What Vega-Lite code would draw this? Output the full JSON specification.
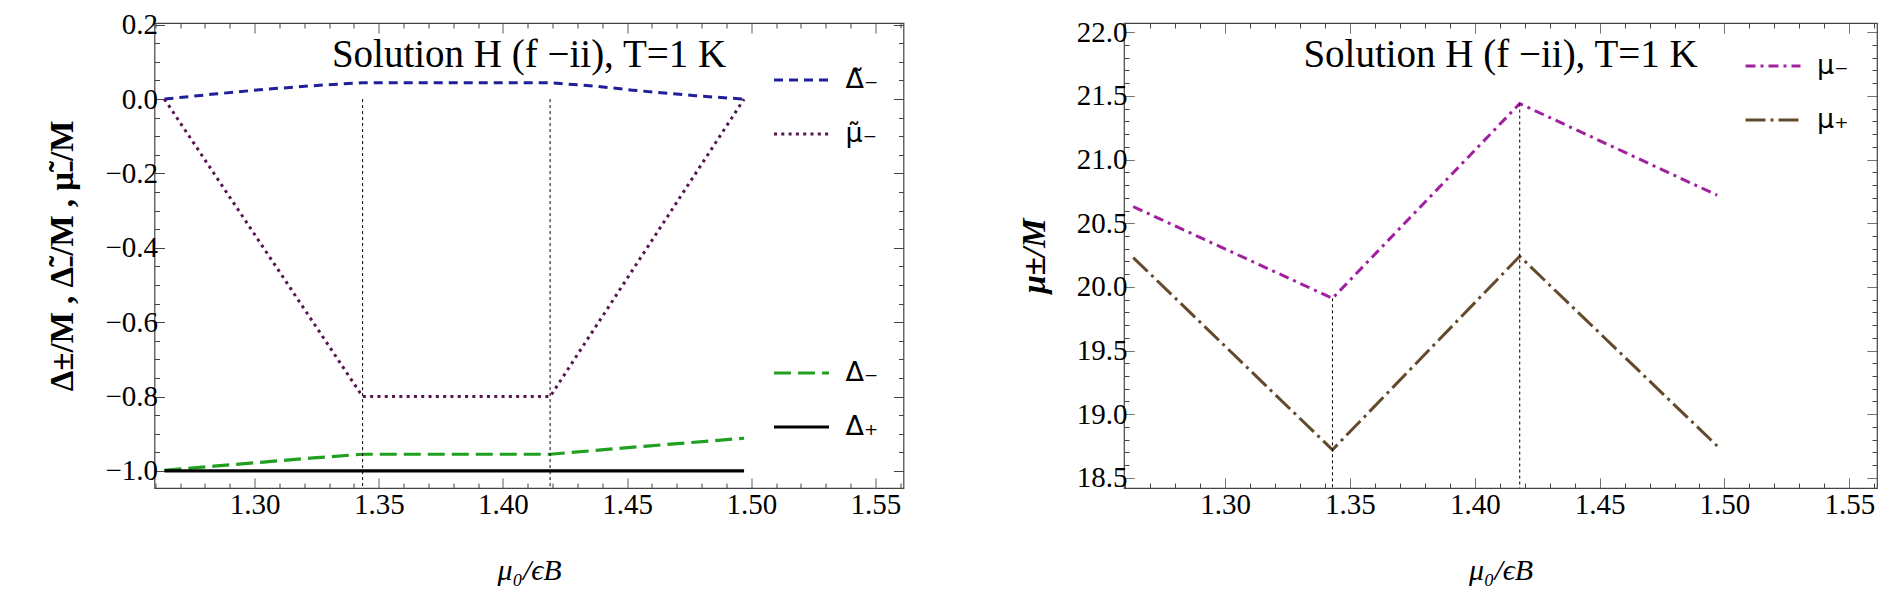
{
  "$schema": "https://vega.github.io/schema/vega-lite/v6.json",
  "padding": {"left": 45.5, "top": 10, "right": 5, "bottom": 5},
  "background": "white",
  "spacing": 111.5,
  "config": {
    "view": {"stroke": "#444", "strokeWidth": 1.2},
    "axis": {"domain": false, "grid": false, "tickColor": "#444", "tickWidth": 1, "labelFont": "Liberation Serif", "labelFontSize": 29, "labelColor": "black", "titleColor": "black"},
    "legend": {"title": null}
  },
  "datasets": {
    "leftA": [
      {"s": "Δ̃₋", "x": 1.2637, "y": 0},
      {"s": "Δ̃₋", "x": 1.2837, "y": 0.0135},
      {"s": "Δ̃₋", "x": 1.3036, "y": 0.026},
      {"s": "Δ̃₋", "x": 1.3236, "y": 0.036},
      {"s": "Δ̃₋", "x": 1.3435, "y": 0.044},
      {"s": "Δ̃₋", "x": 1.419, "y": 0.044},
      {"s": "Δ̃₋", "x": 1.4385, "y": 0.034},
      {"s": "Δ̃₋", "x": 1.4522, "y": 0.024},
      {"s": "Δ̃₋", "x": 1.4775, "y": 0.009},
      {"s": "Δ̃₋", "x": 1.4971, "y": 0},
      {"s": "μ̃₋", "x": 1.2637, "y": 0},
      {"s": "μ̃₋", "x": 1.3435, "y": -0.8},
      {"s": "μ̃₋", "x": 1.419, "y": -0.8},
      {"s": "μ̃₋", "x": 1.4971, "y": 0}
    ],
    "leftB": [
      {"s": "Δ₋", "x": 1.2637, "y": -0.998},
      {"s": "Δ₋", "x": 1.2837, "y": -0.987},
      {"s": "Δ₋", "x": 1.3036, "y": -0.976},
      {"s": "Δ₋", "x": 1.3236, "y": -0.965},
      {"s": "Δ₋", "x": 1.3435, "y": -0.955},
      {"s": "Δ₋", "x": 1.419, "y": -0.955},
      {"s": "Δ₋", "x": 1.458, "y": -0.933},
      {"s": "Δ₋", "x": 1.4971, "y": -0.912},
      {"s": "Δ₊", "x": 1.2637, "y": -1.0},
      {"s": "Δ₊", "x": 1.4971, "y": -1.0}
    ],
    "vlinesLeft": [
      {"x": 1.3435, "top": 0},
      {"x": 1.419, "top": 0}
    ],
    "titleLeft": [{"label": "Solution H (f −ii), T=1 K", "x": 1.4105, "y": 0.086}],
    "right": [
      {"s": "μ₋", "x": 1.2632, "y": 20.63},
      {"s": "μ₋", "x": 1.343, "y": 19.91},
      {"s": "μ₋", "x": 1.418, "y": 21.44},
      {"s": "μ₋", "x": 1.4971, "y": 20.72},
      {"s": "μ₊", "x": 1.2632, "y": 20.23},
      {"s": "μ₊", "x": 1.343, "y": 18.72},
      {"s": "μ₊", "x": 1.418, "y": 20.24},
      {"s": "μ₊", "x": 1.4971, "y": 18.75}
    ],
    "vlinesRight": [
      {"x": 1.343, "top": 19.91},
      {"x": 1.418, "top": 21.44}
    ],
    "titleRight": [{"label": "Solution H (f −ii), T=1 K", "x": 1.4103, "y": 21.727}]
  },
  "hconcat": [
    {
      "width": 749,
      "height": 465,
      "layer": [
        {
          "data": {"name": "leftA"},
          "mark": {"type": "line", "strokeWidth": 3, "strokeCap": "butt"},
          "encoding": {
            "x": {"field": "x", "type": "quantitative", "scale": {"domain": [1.2597, 1.5613], "nice": false, "zero": false},
              "axis": {"orient": "bottom", "title": "μ₀/ϵB", "titleFont": "Liberation Serif", "titleFontSize": 30, "titleFontStyle": "italic", "titleFontWeight": "normal", "titlePadding": 36,
                "labelFont": "Liberation Serif", "labelFontSize": 29, "labelColor": "black",
                "values": [1.26,1.27,1.28,1.29,1.3,1.31,1.32,1.33,1.34,1.35,1.36,1.37,1.38,1.39,1.4,1.41,1.42,1.43,1.44,1.45,1.46,1.47,1.48,1.49,1.5,1.51,1.52,1.53,1.54,1.55,1.56],
                "labelExpr": "abs(datum.value*20-round(datum.value*20))<0.01 ? format(datum.value,'.2f') : ''",
                "tickSize": -10,
                "tickDash": {"condition": {"test": "abs(datum.value*20-round(datum.value*20))<0.01", "value": [1, 0]}, "value": [5, 30]},
                "labelPadding": 12}},
            "y": {"field": "y", "type": "quantitative", "scale": {"domain": [-1.0458, 0.2046], "nice": false, "zero": false},
              "axis": {"orient": "left", "title": "Δ±/M , Δ̃₋/M , μ̃₋/M", "titleFont": "Liberation Serif", "titleFontSize": 33, "titleFontWeight": "bold", "titlePadding": 25,
                "labelFont": "Liberation Serif", "labelFontSize": 29, "labelColor": "black",
                "values": [-1.0,-0.95,-0.9,-0.85,-0.8,-0.75,-0.7,-0.65,-0.6,-0.55,-0.5,-0.45,-0.4,-0.35,-0.3,-0.25,-0.2,-0.15,-0.1,-0.05,0,0.05,0.1,0.15,0.2],
                "labelExpr": "abs(datum.value*5-round(datum.value*5))<0.01 ? format(datum.value,'.1f') : ''",
                "tickSize": -10,
                "tickDash": {"condition": {"test": "abs(datum.value*5-round(datum.value*5))<0.01", "value": [1, 0]}, "value": [5, 30]},
                "labelPadding": 7}},
            "color": {"field": "s", "type": "nominal", "scale": {"domain": ["Δ̃₋", "μ̃₋"], "range": ["#1f1f99", "#561450"]},
              "legend": {"orient": "none", "legendX": 618, "legendY": 28, "direction": "vertical", "symbolType": "stroke", "symbolSize": 3025, "symbolStrokeWidth": 3, "labelFont": "DejaVu Sans", "labelFontSize": 27, "labelOffset": 15, "rowPadding": 12, "labelColor": "black"}},
            "strokeDash": {"field": "s", "type": "nominal", "scale": {"domain": ["Δ̃₋", "μ̃₋"], "range": [[9, 6], [3, 4.3]]},
              "legend": {"orient": "none", "legendX": 618, "legendY": 28, "direction": "vertical", "symbolType": "stroke", "symbolSize": 3025, "symbolStrokeWidth": 3, "labelFont": "DejaVu Sans", "labelFontSize": 27, "labelOffset": 15, "rowPadding": 12, "labelColor": "black"}}
          }
        },
        {
          "data": {"name": "leftB"},
          "mark": {"type": "line", "strokeWidth": 3.2, "strokeCap": "butt"},
          "encoding": {
            "x": {"field": "x", "type": "quantitative", "axis": null},
            "y": {"field": "y", "type": "quantitative", "axis": null},
            "color": {"field": "s", "type": "nominal", "scale": {"domain": ["Δ₋", "Δ₊"], "range": ["#20a020", "#000000"]},
              "legend": {"orient": "none", "legendX": 618, "legendY": 321, "direction": "vertical", "symbolType": "stroke", "symbolSize": 3025, "symbolStrokeWidth": 3, "labelFont": "DejaVu Sans", "labelFontSize": 27, "labelOffset": 15, "rowPadding": 12, "labelColor": "black"}},
            "strokeDash": {"field": "s", "type": "nominal", "scale": {"domain": ["Δ₋", "Δ₊"], "range": [[17, 7], [1, 0]]},
              "legend": {"orient": "none", "legendX": 618, "legendY": 321, "direction": "vertical", "symbolType": "stroke", "symbolSize": 3025, "symbolStrokeWidth": 3, "labelFont": "DejaVu Sans", "labelFontSize": 27, "labelOffset": 15, "rowPadding": 12, "labelColor": "black"}}
          }
        },
        {
          "mark": {"type": "rule", "color": "black", "strokeWidth": 1.2},
          "encoding": {"y": {"datum": 0, "type": "quantitative", "axis": null}}
        },
        {
          "data": {"name": "titleLeft"},
          "mark": {"type": "text", "font": "Liberation Serif", "fontSize": 39, "color": "black", "align": "center", "baseline": "alphabetic"},
          "encoding": {
            "x": {"field": "x", "type": "quantitative", "axis": null},
            "y": {"field": "y", "type": "quantitative", "axis": null},
            "text": {"field": "label"}
          }
        },
        {
          "data": {"name": "vlinesLeft"},
          "mark": {"type": "rule", "color": "black", "strokeWidth": 1, "strokeDash": [3, 3]},
          "encoding": {
            "x": {"field": "x", "type": "quantitative",
              "axis": {"orient": "top", "title": null, "labels": false,
                "values": [1.26,1.27,1.28,1.29,1.3,1.31,1.32,1.33,1.34,1.35,1.36,1.37,1.38,1.39,1.4,1.41,1.42,1.43,1.44,1.45,1.46,1.47,1.48,1.49,1.5,1.51,1.52,1.53,1.54,1.55,1.56],
                "tickSize": -10,
                "tickDash": {"condition": {"test": "abs(datum.value*20-round(datum.value*20))<0.01", "value": [1, 0]}, "value": [5, 30]}}},
            "y": {"field": "top", "type": "quantitative",
              "axis": {"orient": "right", "title": null, "labels": false,
                "values": [-1.0,-0.95,-0.9,-0.85,-0.8,-0.75,-0.7,-0.65,-0.6,-0.55,-0.5,-0.45,-0.4,-0.35,-0.3,-0.25,-0.2,-0.15,-0.1,-0.05,0,0.05,0.1,0.15,0.2],
                "tickSize": -10,
                "tickDash": {"condition": {"test": "abs(datum.value*5-round(datum.value*5))<0.01", "value": [1, 0]}, "value": [5, 30]}}},
            "y2": {"datum": -1.0458}
          }
        }
      ],
      "resolve": {
        "axis": {"x": "independent", "y": "independent"},
        "scale": {"color": "independent", "strokeDash": "independent"},
        "legend": {"color": "independent", "strokeDash": "independent"}
      }
    },
    {
      "width": 753,
      "height": 465,
      "layer": [
        {
          "data": {"name": "right"},
          "mark": {"type": "line", "strokeWidth": 3, "strokeCap": "butt"},
          "encoding": {
            "x": {"field": "x", "type": "quantitative", "scale": {"domain": [1.2595, 1.5611], "nice": false, "zero": false},
              "axis": {"orient": "bottom", "title": "μ₀/ϵB", "titleFont": "Liberation Serif", "titleFontSize": 30, "titleFontStyle": "italic", "titleFontWeight": "normal", "titlePadding": 36,
                "labelFont": "Liberation Serif", "labelFontSize": 29, "labelColor": "black",
                "values": [1.26,1.27,1.28,1.29,1.3,1.31,1.32,1.33,1.34,1.35,1.36,1.37,1.38,1.39,1.4,1.41,1.42,1.43,1.44,1.45,1.46,1.47,1.48,1.49,1.5,1.51,1.52,1.53,1.54,1.55,1.56],
                "labelExpr": "abs(datum.value*20-round(datum.value*20))<0.01 ? format(datum.value,'.2f') : ''",
                "tickSize": -10,
                "tickDash": {"condition": {"test": "abs(datum.value*20-round(datum.value*20))<0.01", "value": [1, 0]}, "value": [5, 30]},
                "labelPadding": 12}},
            "y": {"field": "y", "type": "quantitative", "scale": {"domain": [18.42, 22.073], "nice": false, "zero": false},
              "axis": {"orient": "left", "title": "μ±/M", "titleFont": "Liberation Serif", "titleFontSize": 33, "titleFontWeight": "bold", "titleFontStyle": "italic", "titlePadding": 25,
                "labelFont": "Liberation Serif", "labelFontSize": 29, "labelColor": "black",
                "values": [18.5,18.6,18.7,18.8,18.9,19.0,19.1,19.2,19.3,19.4,19.5,19.6,19.7,19.8,19.9,20.0,20.1,20.2,20.3,20.4,20.5,20.6,20.7,20.8,20.9,21.0,21.1,21.2,21.3,21.4,21.5,21.6,21.7,21.8,21.9,22.0],
                "labelExpr": "abs(datum.value*2-round(datum.value*2))<0.01 ? format(datum.value,'.1f') : ''",
                "tickSize": -10,
                "tickDash": {"condition": {"test": "abs(datum.value*2-round(datum.value*2))<0.01", "value": [1, 0]}, "value": [5, 30]},
                "labelPadding": 7}},
            "color": {"field": "s", "type": "nominal", "scale": {"domain": ["μ₋", "μ₊"], "range": ["#a020a0", "#634a2c"]},
              "legend": {"orient": "none", "legendX": 620, "legendY": 14, "direction": "vertical", "symbolType": "stroke", "symbolSize": 3025, "symbolStrokeWidth": 3, "labelFont": "DejaVu Sans", "labelFontSize": 27, "labelOffset": 15, "rowPadding": 12, "labelColor": "black"}},
            "strokeDash": {"field": "s", "type": "nominal", "scale": {"domain": ["μ₋", "μ₊"], "range": [[10, 5, 3, 5], [20, 5, 3, 5]]},
              "legend": {"orient": "none", "legendX": 620, "legendY": 14, "direction": "vertical", "symbolType": "stroke", "symbolSize": 3025, "symbolStrokeWidth": 3, "labelFont": "DejaVu Sans", "labelFontSize": 27, "labelOffset": 15, "rowPadding": 12, "labelColor": "black"}}
          }
        },
        {
          "data": {"name": "titleRight"},
          "mark": {"type": "text", "font": "Liberation Serif", "fontSize": 39, "color": "black", "align": "center", "baseline": "alphabetic"},
          "encoding": {
            "x": {"field": "x", "type": "quantitative", "axis": null},
            "y": {"field": "y", "type": "quantitative", "axis": null},
            "text": {"field": "label"}
          }
        },
        {
          "data": {"name": "vlinesRight"},
          "mark": {"type": "rule", "color": "black", "strokeWidth": 1, "strokeDash": [3, 3]},
          "encoding": {
            "x": {"field": "x", "type": "quantitative",
              "axis": {"orient": "top", "title": null, "labels": false,
                "values": [1.26,1.27,1.28,1.29,1.3,1.31,1.32,1.33,1.34,1.35,1.36,1.37,1.38,1.39,1.4,1.41,1.42,1.43,1.44,1.45,1.46,1.47,1.48,1.49,1.5,1.51,1.52,1.53,1.54,1.55,1.56],
                "tickSize": -10,
                "tickDash": {"condition": {"test": "abs(datum.value*20-round(datum.value*20))<0.01", "value": [1, 0]}, "value": [5, 30]}}},
            "y": {"field": "top", "type": "quantitative",
              "axis": {"orient": "right", "title": null, "labels": false,
                "values": [18.5,18.6,18.7,18.8,18.9,19.0,19.1,19.2,19.3,19.4,19.5,19.6,19.7,19.8,19.9,20.0,20.1,20.2,20.3,20.4,20.5,20.6,20.7,20.8,20.9,21.0,21.1,21.2,21.3,21.4,21.5,21.6,21.7,21.8,21.9,22.0],
                "tickSize": -10,
                "tickDash": {"condition": {"test": "abs(datum.value*2-round(datum.value*2))<0.01", "value": [1, 0]}, "value": [5, 30]}}},
            "y2": {"datum": 18.42}
          }
        }
      ],
      "resolve": {
        "axis": {"x": "independent", "y": "independent"},
        "scale": {"color": "independent", "strokeDash": "independent"},
        "legend": {"color": "independent", "strokeDash": "independent"}
      }
    }
  ]
}
